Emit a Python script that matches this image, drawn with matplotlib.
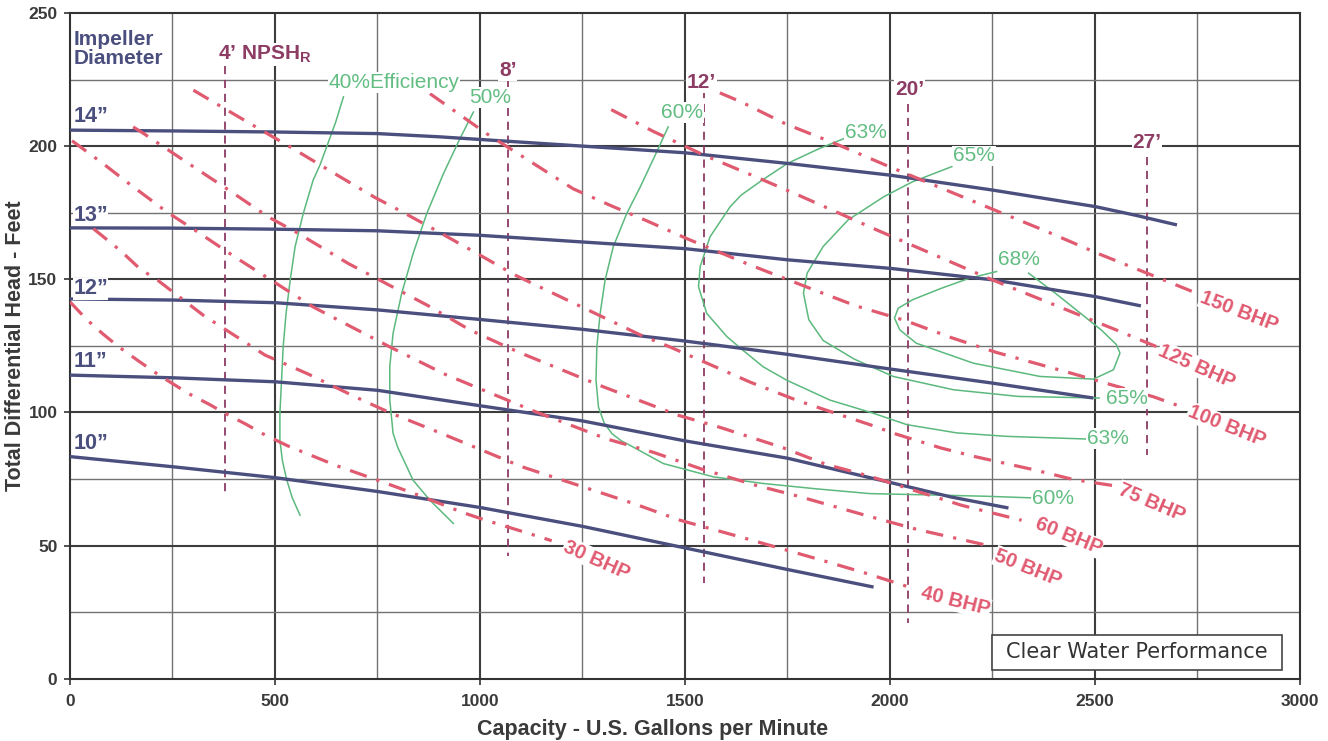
import matplotlib
matplotlib.use("Agg")
import matplotlib.pyplot as plt
from matplotlib.patches import Rectangle

plt.rcParams["font.family"] = ["Liberation Sans", "DejaVu Sans"]
plt.rcParams["mathtext.fontset"] = "custom"
plt.rcParams["mathtext.bf"] = "Liberation Sans:bold"
plt.rcParams["mathtext.rm"] = "Liberation Sans"

# ── Colours ──────────────────────────────────────────────────────────────────
NAVY = "#4a4f7e"
RED = "#e05a70"
GREEN = "#5cb97d"
GREEN_TXT = "#62bd82"
MAROON = "#8d3c64"
TXT = "#3a3a3a"

# ── Impeller diameter curves (gpm, ft) ───────────────────────────────────────
imp14_q = [0, 250, 500, 750, 900, 1000, 1250, 1500, 1750, 2000, 2250, 2500, 2600, 2700]
imp14_h = [206, 205.7, 205.3, 204.7, 203.5, 202.5, 200, 197.5, 193.5, 189.1, 183.5, 177.3, 174, 170.4]
imp13_q = [0, 250, 500, 750, 1000, 1250, 1500, 1750, 2000, 2250, 2500, 2612]
imp13_h = [169.3, 169.2, 168.8, 168.2, 166.5, 164, 161.5, 157.3, 154.1, 149.8, 143.5, 140]
imp12_q = [0, 250, 500, 750, 1000, 1250, 1500, 1750, 2000, 2250, 2496]
imp12_h = [142.6, 142.2, 141.2, 138.5, 134.9, 131.2, 126.8, 121.8, 116.3, 111, 105.4]
imp11_q = [0, 250, 500, 750, 1000, 1250, 1500, 1750, 2000, 2150, 2289]
imp11_h = [114, 113, 111.5, 108.3, 102.5, 96.8, 89.3, 82.8, 73.7, 68.2, 64.1]
imp10_q = [0, 250, 500, 750, 1000, 1250, 1500, 1750, 1960]
imp10_h = [83.4, 79.6, 75.5, 70.3, 64.3, 57.2, 49.1, 41, 34.4]

imp_labels = ["14”", "13”", "12”", "11”", "10”"]
imp_label_h = [211, 174, 146.5, 119, 88.5]

# ── Constant BHP curves ──────────────────────────────────────────────────────
bhp30_q = [0, 40, 80, 120, 170, 220, 290, 340, 380, 430, 470, 530, 650, 760, 840, 890, 960, 1010, 1065, 1120, 1175]
bhp30_h = [141.5, 135, 129.5, 124.5, 119, 113.7, 107, 103, 99.5, 95.5, 92, 87.5, 80, 74, 69.5, 66.5, 62.3, 59.7, 57.1, 54.5, 51.8]
bhp40_q = [57, 122, 170, 215, 270, 325, 476, 581, 699, 780, 906, 1024, 1102, 1256, 1374, 1488, 1638, 1752, 1831, 1937, 2053]
bhp40_h = [169, 160.9, 154, 149.5, 143, 136.5, 121.5, 114.4, 105.6, 99.9, 92.1, 84.6, 79.6, 71.8, 65.8, 59.5, 53.1, 48.1, 44.6, 39.8, 34.1]
bhp50_q = [5, 81, 138, 236, 317, 402, 593, 780, 915, 1136, 1310, 1423, 1541, 1671, 1772, 1939, 2067, 2228]
bhp50_h = [202, 193.4, 186.6, 175.3, 167.2, 158.4, 139.6, 124.6, 114.3, 100.2, 90, 85, 78.7, 72.7, 68.7, 61.4, 56, 50.4]
bhp60_q = [154, 176, 280, 390, 484, 557, 679, 878, 976, 1093, 1301, 1484, 1585, 1736, 1842, 1951, 2057, 2175, 2321]
bhp60_h = [207.2, 205.1, 194.4, 183.2, 173.4, 167.2, 155.9, 139.7, 130.9, 122.7, 109.6, 98.9, 94.4, 86.9, 80.6, 76, 70.8, 65.1, 59.5]
bhp75_q = [301, 400, 537, 642, 744, 813, 886, 988, 1085, 1191, 1297, 1391, 1463, 1660, 1777, 1882, 1951, 2012, 2125, 2207, 2350, 2447, 2545]
bhp75_h = [221, 212, 199.7, 190, 180.7, 175.1, 168.9, 160.1, 151.6, 143.8, 136, 129.1, 124.6, 111.3, 104.3, 98.9, 95.4, 92, 86.6, 83.4, 78.5, 74.8, 72.5]
bhp100_q = [878, 1016, 1227, 1317, 1406, 1504, 1650, 1815, 1917, 2037, 2151, 2260, 2447, 2528, 2642, 2720]
bhp100_h = [219.7, 204.7, 184, 177.8, 172, 165.3, 155.9, 146, 140, 134.5, 128, 122.5, 114.5, 110.9, 105.9, 101.6]
bhp125_q = [1320, 1423, 1548, 1672, 1778, 1968, 2246, 2399, 2556, 2650]
bhp125_h = [213.7, 205.5, 196.5, 188.5, 181.5, 168.5, 150, 140.5, 130.7, 124.7]
bhp150_q = [1585, 1637, 1746, 1869, 1998, 2255, 2383, 2510, 2638, 2747]
bhp150_h = [220, 216.6, 208.3, 200.8, 192.3, 176, 167.9, 159.5, 151.6, 144.8]

bhp_labels = ["30 BHP", "40 BHP", "50 BHP", "60 BHP", "75 BHP", "100 BHP", "125 BHP", "150 BHP"]
bhp_label_q = [1285, 2159, 2337, 2435, 2638, 2821, 2748, 2852]
bhp_label_h = [44.6, 29.1, 41.6, 53.5, 66, 94.8, 117.3, 137.9]
bhp_label_rot = [-24, -14, -22, -22, -23, -22, -24, -21]

# ── Efficiency curves ────────────────────────────────────────────────────────
eff40_q = [667, 648, 626, 610, 593, 569, 549, 537, 527, 520, 516, 512, 512, 518, 528, 542, 561]
eff40_h = [218.5, 209, 199.7, 193, 187.2, 174.7, 162.2, 149.6, 137.1, 124.6, 112.1, 99.6, 89.6, 82, 75, 68, 61.4]
eff50_q = [984, 951, 911, 870, 837, 809, 788, 780, 780, 788, 799, 837, 878, 935]
eff50_h = [212.8, 202.8, 189.7, 174.6, 159.7, 144.7, 129.7, 117.2, 104.7, 92.2, 87, 74.5, 67, 58.3]
eff60_q = [1459, 1431, 1391, 1358, 1325, 1305, 1293, 1285, 1283, 1289, 1303, 1322, 1345, 1370, 1447, 1569, 1691, 1820, 1951, 2100, 2236, 2346]
eff60_h = [207.2, 197.8, 184.7, 174.7, 162.2, 149.6, 137.1, 124.6, 112.1, 102, 96, 92, 89.3, 87.3, 80.8, 75.8, 73.3, 71.3, 69.5, 69, 68.5, 67.9]
eff63_q = [1889, 1828, 1750, 1689, 1637, 1610, 1561, 1537, 1533, 1553, 1602, 1640, 1691, 1748, 1854, 1959, 2041, 2163, 2285, 2480]
eff63_h = [202.9, 199.1, 193.5, 187.3, 181.6, 177.2, 165.9, 154.7, 147.2, 137.2, 128.5, 123.5, 117.1, 112.1, 104.6, 99.7, 95.4, 92.3, 91, 90]
eff65_q = [2151, 2055, 1985, 1898, 1837, 1798, 1789, 1802, 1837, 1913, 2008, 2155, 2313, 2510]
eff65_h = [192.3, 186.6, 181, 172.3, 162.3, 152.3, 144.8, 134.8, 127, 120, 113.5, 108.5, 106, 105.4]
eff68_q = [2260, 2194, 2125, 2055, 2020, 2011, 2024, 2064, 2203, 2366, 2496, 2545, 2561, 2552, 2515, 2464, 2403, 2338]
eff68_h = [152.9, 150.4, 146.6, 142.3, 139.1, 135.4, 131, 126, 118.5, 113.5, 112.5, 116, 122.3, 125.5, 131, 137.3, 144.8, 152.3]

eff_labels = ["40%Efficiency", "50%", "60%", "63%", "65%", "68%", "65%", "63%", "60%"]
eff_label_q = [790, 1026, 1492, 1941, 2205, 2314, 2577, 2531, 2398]
eff_label_h = [224, 218.2, 212.6, 205.1, 196.3, 157.5, 105.1, 90.1, 67.6]

# ── NPSH required lines ──────────────────────────────────────────────────────
npsh_q = [377, 1068, 1547, 2045, 2627]
npsh_top = [230, 225, 221, 216, 196]
npsh_bot = [70, 46, 36, 21, 84]
npsh_labels = ["4’ NPSH$_\\mathbf{R}$", "8’", "12’", "20’", "27’"]
npsh_label_q = [360, 1068, 1540, 2048, 2627]
npsh_label_h = [234.5, 228.3, 224, 221.3, 201.3]

# ── Figure ───────────────────────────────────────────────────────────────────
fig = plt.figure(figsize=(13.28, 7.41), dpi=100)
ax = fig.add_axes([0.0527, 0.0841, 0.9262, 0.8984])
ax.set_xlim(0, 3000)
ax.set_ylim(0, 250)

# grid: heavy every 500 gpm / 50 ft, light in between
for x in range(250, 3000, 250):
    major = x % 500 == 0
    ax.axvline(x, color="#3d3d3d" if major else "#727272",
               lw=1.5 if major else 1.0, zorder=0.5)
for y in range(25, 250, 25):
    major = y % 50 == 0
    ax.axhline(y, color="#3d3d3d" if major else "#727272",
               lw=1.5 if major else 1.0, zorder=0.5)

for s in ax.spines.values():
    s.set_linewidth(1.5)
    s.set_color("#333333")

ax.set_xticks(range(0, 3001, 500))
ax.set_yticks(range(0, 251, 50))
ax.tick_params(axis="both", direction="out", length=4, width=1.2,
               color="#333333", labelcolor=TXT, labelsize=12.5)
ax.tick_params(axis="x", pad=7)
ax.tick_params(axis="y", pad=5)
plt.setp(ax.get_xticklabels() + ax.get_yticklabels(), fontweight="bold")

ax.set_xlabel("Capacity - U.S. Gallons per Minute", fontsize=15.5,
              fontweight="bold", color=TXT)
ax.set_ylabel("Total Differential Head - Feet", fontsize=15.5,
              fontweight="bold", color=TXT)
ax.xaxis.set_label_coords(0.474, -0.0605)
ax.yaxis.set_label_coords(-0.036, 0.5)

white = dict(facecolor="white", edgecolor="none", pad=0.6)

# NPSH lines
for q, top, bot, lbl, lq, lh in zip(npsh_q, npsh_top, npsh_bot,
                                    npsh_labels, npsh_label_q, npsh_label_h):
    ax.plot([q, q], [top, bot], color=MAROON, lw=1.3,
            ls=(0, (4.5, 3.2)), zorder=2)
    ha = "left" if lbl.startswith("4") else "center"
    ax.text(lq, lh, lbl, ha=ha, va="center", color=MAROON, fontsize=15,
            fontweight="bold", bbox=white, zorder=6)

# Efficiency curves
for q, h in [(eff40_q, eff40_h), (eff50_q, eff50_h), (eff60_q, eff60_h),
             (eff63_q, eff63_h), (eff65_q, eff65_h), (eff68_q, eff68_h)]:
    ax.plot(q, h, color=GREEN, lw=1.1, zorder=3)
for lbl, lq, lh in zip(eff_labels, eff_label_q, eff_label_h):
    ax.text(lq, lh, lbl, ha="center", va="center", color=GREEN_TXT,
            fontsize=15, bbox=white, zorder=6)

# Impeller curves
for q, h in [(imp14_q, imp14_h), (imp13_q, imp13_h), (imp12_q, imp12_h),
             (imp11_q, imp11_h), (imp10_q, imp10_h)]:
    ax.plot(q, h, color=NAVY, lw=2.4, solid_capstyle="butt", zorder=4)
for lbl, lh in zip(imp_labels, imp_label_h):
    ax.text(8, lh, lbl, ha="left", va="center", color=NAVY, fontsize=15.5,
            fontweight="bold", bbox=dict(facecolor="white", edgecolor="none", pad=0.3),
            zorder=6)
ax.text(8, 236.5, "Impeller\nDiameter", ha="left", va="center", color=NAVY,
        fontsize=15, fontweight="bold", linespacing=1.05, zorder=6)

# Constant BHP curves
for q, h in [(bhp30_q, bhp30_h), (bhp40_q, bhp40_h), (bhp50_q, bhp50_h),
             (bhp60_q, bhp60_h), (bhp75_q, bhp75_h), (bhp100_q, bhp100_h),
             (bhp125_q, bhp125_h), (bhp150_q, bhp150_h)]:
    ax.plot(q, h, color=RED, lw=2.3, ls=(0, (5.5, 3.2, 1.0, 3.2)),
            dash_capstyle="butt", zorder=5)
for lbl, lq, lh, rot in zip(bhp_labels, bhp_label_q, bhp_label_h, bhp_label_rot):
    ax.text(lq, lh, lbl, ha="center", va="center", rotation=rot,
            rotation_mode="anchor", color=RED, fontsize=14.5, fontweight="bold",
            bbox=white, zorder=6)

# Clear water note
ax.add_patch(Rectangle((2250, 3.3), 706, 13.2, facecolor="white",
                       edgecolor="#444444", lw=1.2, zorder=7))
ax.text(2603, 9.9, "Clear Water Performance", ha="center", va="center",
        fontsize=15, family="DejaVu Sans", color="#333333", zorder=8)

fig.savefig("out.png", dpi=100)
